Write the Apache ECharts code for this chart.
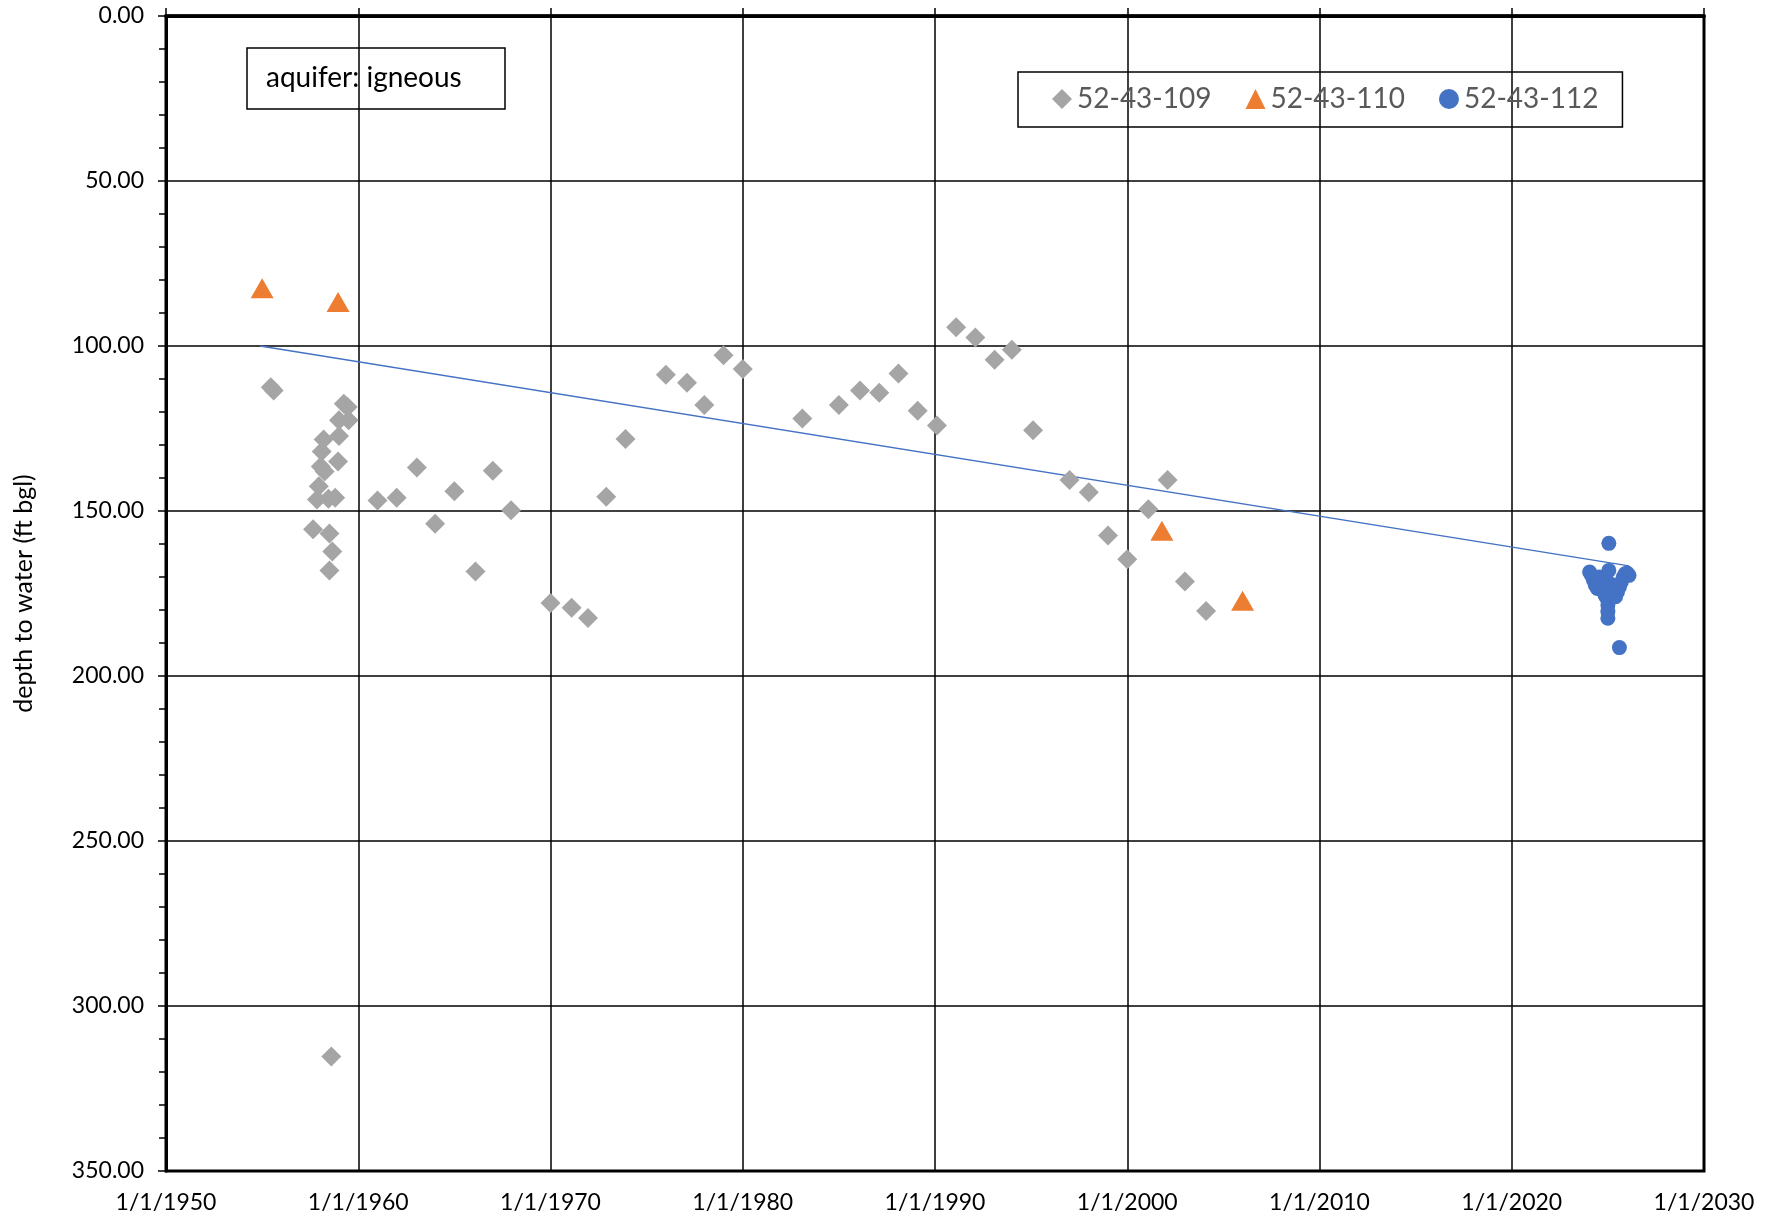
<!DOCTYPE html>
<html>
<head>
<meta charset="utf-8">
<script src="https://cdn.jsdelivr.net/npm/echarts@6/dist/echarts.min.js"></script>
<style>
html,body{margin:0;padding:0;background:#fff;}
#chart{width:1774px;height:1221px;}
</style>
</head>
<body>
<div id="chart"></div>
<script>
// decimal years vs depth to water (ft bgl)
const well109 = [
  [1955.45,112.5],[1955.6,113.5],
  [1957.65,155.5],[1957.85,146.5],[1957.95,142.5],[1958.05,136.5],[1958.1,132],[1958.2,128.3],[1958.25,138],
  [1958.45,146.3],[1958.5,156.8],[1958.65,162.3],[1958.5,168],[1958.6,315.3],
  [1958.8,146],[1958.95,135],[1959.0,127.3],[1959.0,122.5],[1959.25,117.5],[1959.45,118.5],[1959.5,122.5],
  [1961.0,146.8],[1962.0,146],[1963.05,136.8],[1964.0,153.9],[1965.0,144],[1966.1,168.3],[1967.0,137.8],
  [1967.95,149.8],[1970.0,177.9],[1971.1,179.3],[1971.95,182.4],[1972.9,145.7],[1973.9,128.2],
  [1976.0,108.7],[1977.1,111.1],[1978.0,117.9],[1979.0,102.8],[1980.0,107],[1983.1,122],
  [1985.0,117.9],[1986.1,113.5],[1987.1,114.2],[1988.1,108.3],[1989.1,119.6],[1990.1,124.1],
  [1991.1,94.3],[1992.1,97.4],[1993.1,104.2],[1994.0,101.1],[1995.1,125.5],[1997.0,140.6],
  [1998.0,144.3],[1999.0,157.4],[2000.0,164.6],[2001.1,149.5],[2002.1,140.6],[2003.0,171.4],[2004.1,180.3]
];
const well110 = [
  [1955.0,82.5],[1958.95,86.7],[2001.8,156],[2006.0,177.2]
];
const well112 = [
  [2024.05,168.5],[2024.15,169.5],[2024.25,171],[2024.35,172.5],[2024.45,173.5],[2024.55,170],
  [2024.65,172],[2024.75,174],[2024.85,175.5],[2024.95,176.5],[2025.05,168],[2025.0,178.5],
  [2025.0,180.5],[2025.0,182.5],[2025.05,159.8],[2025.1,172],[2025.2,174],[2025.3,175.5],
  [2025.4,176],[2025.5,174.5],[2025.6,173],[2025.7,171.5],[2025.8,170],[2025.9,169],
  [2026.0,168.8],[2026.1,169.5],[2025.6,191.4]
];
const trend = [[1954.9,100],[2026.1,166.6]];
const seriesNames = ['52-43-109','52-43-110','52-43-112'];

const FONT = 'Lato, "Open Sans", sans-serif';
const chart = echarts.init(document.getElementById('chart'), null, {renderer:'canvas'});
chart.setOption({
  backgroundColor:'#fff',
  animation:false,
  title:{
    text:'aquifer: igneous',
    left:247, top:48,
    padding:[16,44,17,19],
    borderColor:'#000', borderWidth:1.5,
    textStyle:{fontFamily:FONT, fontSize:28, fontWeight:'normal', color:'#000'}
  },
  legend:{
    data:seriesNames,
    left:1018, top:72,
    padding:[13,24,14,34],
    itemGap:34, itemWidth:20, itemHeight:20,
    borderColor:'#000', borderWidth:1.5,
    textStyle:{fontFamily:FONT, fontSize:28, color:'#595959'}
  },
  grid:{left:166, right:70, top:16, bottom:50, show:true, borderColor:'#000', borderWidth:3, containLabel:false},
  xAxis:[{
    type:'value', min:1950, max:2030, interval:10,
    axisLine:{show:true, lineStyle:{color:'#000', width:3.5}},
    axisTick:{show:false},
    axisLabel:{margin:20, color:'#000', fontFamily:FONT, fontSize:23, formatter:v=>'1/1/'+v},
    splitLine:{show:true, lineStyle:{color:'#000', width:1.5}}
  },{
    type:'value', position:'top', min:1950, max:2030, interval:10,
    axisLine:{show:true, lineStyle:{color:'#000', width:3}},
    axisTick:{show:true, length:8, lineStyle:{color:'#000', width:1.5}},
    axisLabel:{show:false}, splitLine:{show:false}
  }],
  yAxis:{
    type:'value', inverse:true, min:0, max:350, interval:50,
    name:'depth to water (ft bgl)', nameLocation:'middle', nameGap:130,
    nameTextStyle:{fontFamily:FONT, fontSize:25, color:'#000'},
    axisLine:{show:true, lineStyle:{color:'#000', width:3}},
    axisTick:{show:true, length:8, lineStyle:{color:'#000', width:1.5}},
    minorTick:{show:true, splitNumber:5, length:7, lineStyle:{color:'#000', width:1.5}},
    axisLabel:{margin:22, color:'#000', fontFamily:FONT, fontSize:23, formatter:v=>v.toFixed(2)},
    splitLine:{show:true, lineStyle:{color:'#000', width:1.5}}
  },
  series:[
    {name:seriesNames[0], type:'scatter', data:well109, symbol:'diamond', symbolSize:[20,20],
     itemStyle:{color:'#A5A5A5', opacity:1}},
    {name:seriesNames[1], type:'scatter', data:well110, symbol:'triangle', symbolSize:[23,20],
     itemStyle:{color:'#ED7D31', opacity:1}},
    {name:seriesNames[2], type:'scatter', data:well112, symbol:'circle', symbolSize:15,
     itemStyle:{color:'#4472C4', opacity:1}},
    {name:'trend', type:'line', data:trend, symbol:'none', silent:true,
     lineStyle:{color:'#4472C4', width:1.3}, z:1}
  ]
});
</script>
</body>
</html>
